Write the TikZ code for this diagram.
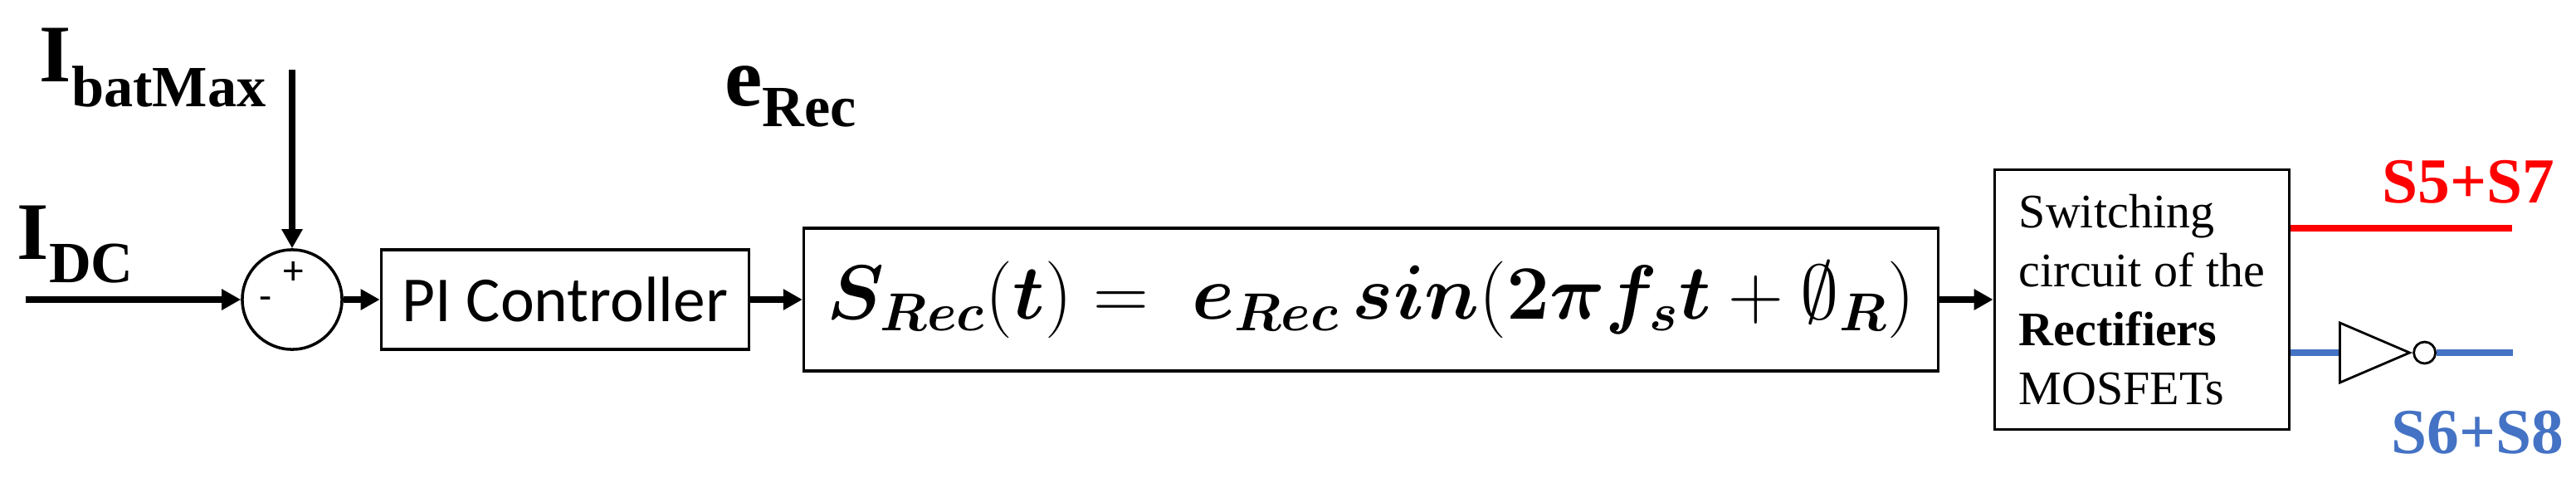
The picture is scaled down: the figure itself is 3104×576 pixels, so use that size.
\documentclass[tikz,border=0pt]{standalone}
\usepackage{amsmath,bm}
\usepackage{fontspec}
\setmainfont{Liberation Serif}
\newfontfamily\calibri{Carlito}
\usetikzlibrary{arrows.meta,calc,positioning,shapes.geometric}
\definecolor{sigblue}{RGB}{68,114,196}

\begin{document}
\begin{tikzpicture}[x=0.01cm,y=-0.01cm,
  blk/.style={draw,line width=1pt,inner sep=0pt},
  sig/.style={line width=2.1pt,-{Triangle[length=0.23cm,width=0.24cm]}},
  lbl/.style={anchor=base west,inner sep=0pt},
  redline/.style={line width=2pt,red},
  blueline/.style={line width=2pt,sigblue}]
\useasboundingbox (0,0) rectangle (3104,576);
\def\yc{361}
% input labels
\node[lbl] (ibat) at (47,99) {\fontsize{28}{28}\selectfont\bfseries I\raisebox{-0.29cm}{\fontsize{20}{20}\selectfont batMax}};
\node[lbl] (idc) at (20,312) {\fontsize{28}{28}\selectfont\bfseries I\raisebox{-0.28cm}{\fontsize{20}{20}\selectfont DC}};
\node[lbl] (erec) at (873,127) {\fontsize{29}{29}\selectfont\bfseries e\raisebox{-0.25cm}{\fontsize{20}{20}\selectfont Rec}};
% summing point
\node[draw,circle,line width=1pt,minimum size=1.2cm,inner sep=0pt] (sum) at (352,\yc) {};
\node (plus) at ($(sum)+(2,-32)$) {\calibri\fontsize{14}{14}\selectfont +};
\node (minus) at ($(sum)+(-32,5)$) {\calibri\fontsize{14}{14}\selectfont -};
% blocks
\node[blk,minimum width=4.43cm,minimum height=1.2cm] (pi) at (681,\yc) {\calibri\fontsize{22}{22}\selectfont PI Controller};
\node[blk,minimum width=13.66cm,minimum height=1.72cm] (srec) at (1652,\yc)
  {\scalebox{1.06}{\fontsize{26}{26}\selectfont $\bm{S}_{\bm{Rec}}(\bm{t}) =\;\bm{e}_{\bm{Rec}}\,\bm{sin}(\bm{2\pi f}_{\bm{s}}\bm{t}+\emptyset_{\bm{R}})$}};
\node[blk,minimum width=3.55cm,minimum height=3.13cm,align=left,
  font=\fontsize{16.5}{20.2}\selectfont] (sw) at (2581,\yc)
  {Switching\\circuit of the\\\textbf{Rectifiers}\\MOSFETs};
% connectors
\coordinate (dcin) at (31,\yc);
\coordinate (batin) at (352,84);
\draw[sig] (dcin) -- (sum);
\draw[sig] (batin) -- (sum);
\draw[sig] (sum) -- (pi);
\draw[sig] (pi) -- (srec);
\draw[sig] (srec) -- (sw);
% outputs
\coordinate (s57) at (3027,275);
\draw[redline] (sw.east |- s57) -- (s57);
\node[draw,isosceles triangle,isosceles triangle stretches,minimum width=0.72cm,
  minimum height=0.84cm,inner sep=0pt,line width=0.8pt,anchor=lower side] (inv) at (2818,425) {};
\node[draw,circle,minimum size=0.26cm,inner sep=0pt,line width=0.8pt,right=0pt of inv.apex] (nb) {};
\coordinate (s68) at (3028,425);
\draw[blueline] (sw.east |- inv.lower side) -- (inv.lower side);
\draw[blueline] (nb) -- (s68);
\node[lbl,text=red] (s57lbl) at (2870,244) {\fontsize{22}{22}\selectfont\bfseries S5+S7};
\node[lbl,text=sigblue] (s68lbl) at (2881,546) {\fontsize{22}{22}\selectfont\bfseries S6+S8};
\end{tikzpicture}
\end{document}
